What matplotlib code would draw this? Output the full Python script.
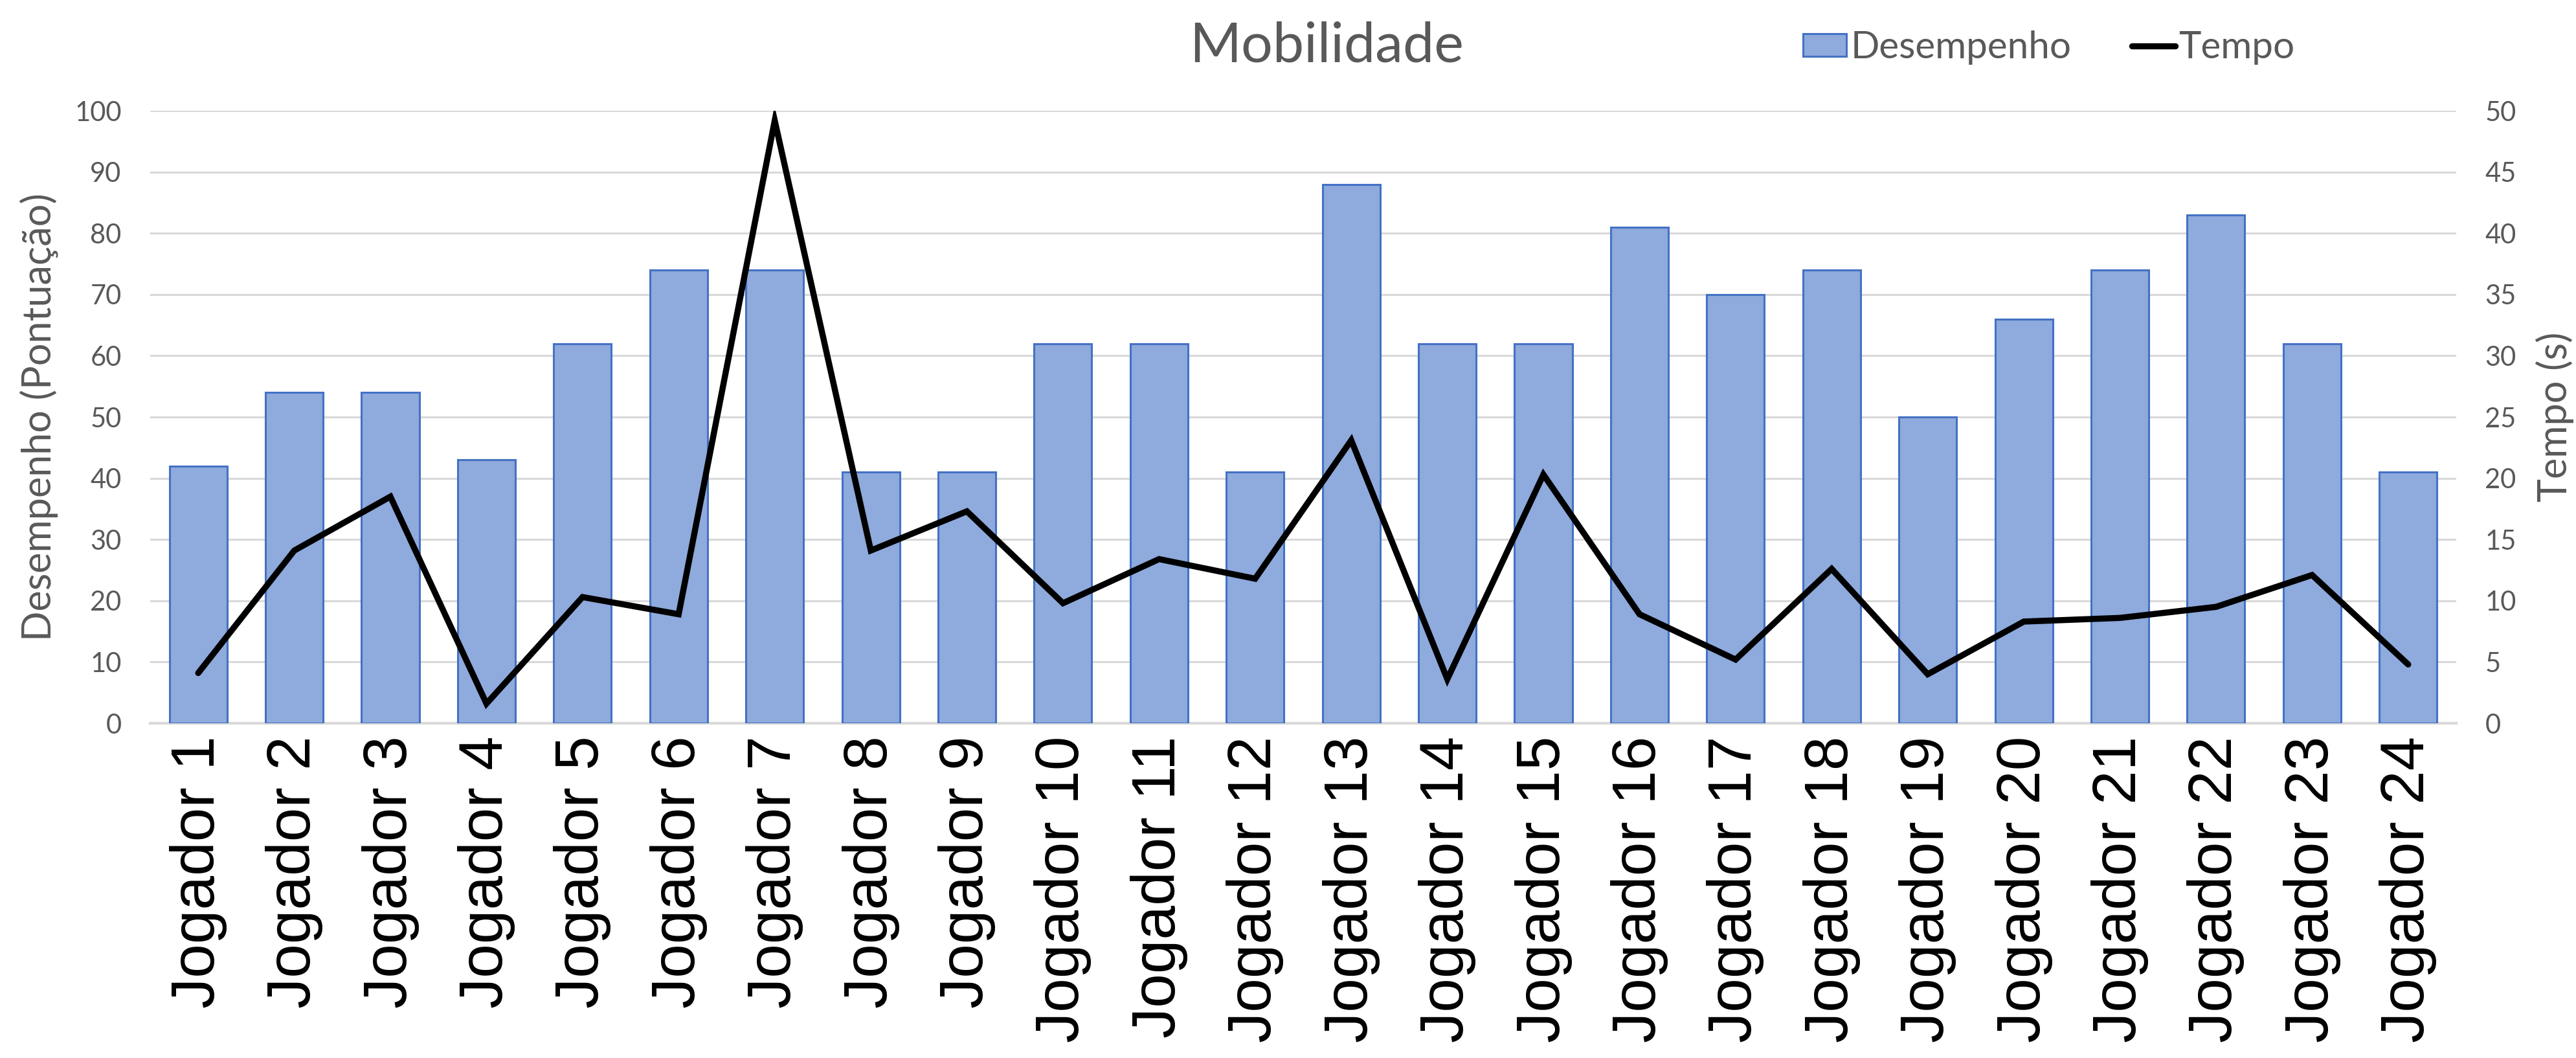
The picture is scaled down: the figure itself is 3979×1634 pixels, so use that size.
import matplotlib.pyplot as plt
import numpy as np

# dados
jogadores = ["Jogador 1", "Jogador 2", "Jogador 3", "Jogador 4", "Jogador 5", "Jogador 6",
             "Jogador 7", "Jogador 8", "Jogador 9", "Jogador 10", "Jogador 11", "Jogador 12",
             "Jogador 13", "Jogador 14", "Jogador 15", "Jogador 16", "Jogador 17", "Jogador 18",
             "Jogador 19", "Jogador 20", "Jogador 21", "Jogador 22", "Jogador 23", "Jogador 24"]
desempenho = [42, 54, 54, 43, 62, 74, 74, 41, 41, 62, 62, 41,
              88, 62, 62, 81, 70, 74, 50, 66, 74, 83, 62, 41]
tempo = [4.1, 14.1, 18.5, 1.6, 10.3, 8.9, 49.2, 14.1, 17.3, 9.8, 13.4, 11.8,
         23.1, 3.6, 20.3, 8.9, 5.2, 12.6, 4.0, 8.3, 8.6, 9.5, 12.1, 4.8]
ticks_desempenho = [0, 10, 20, 30, 40, 50, 60, 70, 80, 90, 100]
ticks_tempo = [0, 5, 10, 15, 20, 25, 30, 35, 40, 45, 50]

GREY = '#595959'
LABEL_FONT = ['Lato', 'DejaVu Sans']

fig = plt.figure(figsize=(39.79, 16.34), dpi=100)
ax = fig.add_axes([0.0583, 0.3164, 0.8952, 0.5789])
ax2 = ax.twinx()

x = np.arange(len(jogadores))

# barras (Desempenho)
ax.bar(x, desempenho, width=0.6, color='#8FAADC', edgecolor='#4472C4',
       linewidth=2.2, zorder=3, label='Desempenho')
ax.set_ylim(0, 100)
ax.set_xlim(-0.5, len(jogadores) - 0.5)
ax.set_yticks(ticks_desempenho)
ax.grid(axis='y', color='#D9D9D9', linewidth=2.2, zorder=0)
ax.set_axisbelow(True)

# linha (Tempo)
ax2.plot(x, tempo, color='black', linewidth=6.8, solid_joinstyle='miter',
         solid_capstyle='round', label='Tempo', zorder=4)
ax2.set_ylim(0, 50)
ax2.set_yticks(ticks_tempo)

for a in (ax, ax2):
    for s in a.spines.values():
        s.set_visible(False)
ax.spines['bottom'].set_visible(True)
ax.spines['bottom'].set_color('#D9D9D9')
ax.spines['bottom'].set_linewidth(3)

ax.set_xticks(x)
ax.set_xticklabels(jogadores, rotation=90, fontsize=68, family='Liberation Sans',
                   color='black')
ax.tick_params(axis='x', length=0, pad=14)
ax.tick_params(axis='y', length=0, pad=32, labelsize=30, labelcolor=GREY)
ax2.tick_params(axis='y', length=0, pad=32, labelsize=30, labelcolor=GREY)
for t in ax.get_yticklabels() + ax2.get_yticklabels():
    t.set_family(LABEL_FONT)

ax.set_ylabel('Desempenho (Pontuação)', fontsize=44, color=GREY, family=LABEL_FONT)
ax2.set_ylabel('Tempo (s)', fontsize=44, color=GREY, family=LABEL_FONT)
ax.yaxis.set_label_coords(-0.0399, 0.5)
ax2.yaxis.set_label_coords(1.0345, 0.5)

fig.text(0.515, 0.9565, 'Mobilidade', fontsize=62, color=GREY, family=LABEL_FONT,
         ha='center', va='center')

h1, l1 = ax.get_legend_handles_labels()
h2, l2 = ax2.get_legend_handles_labels()
leg = fig.legend(h1 + h2, l1 + l2, loc='center left', bbox_to_anchor=(0.70, 0.955),
                 ncol=2, frameon=False, handlelength=1.15, handleheight=0.55,
                 handletextpad=0.1, columnspacing=1.6, borderpad=0, borderaxespad=0,
                 prop={'family': LABEL_FONT, 'size': 42})
for t in leg.get_texts():
    t.set_color(GREY)

fig.savefig('out.png', dpi=100)
